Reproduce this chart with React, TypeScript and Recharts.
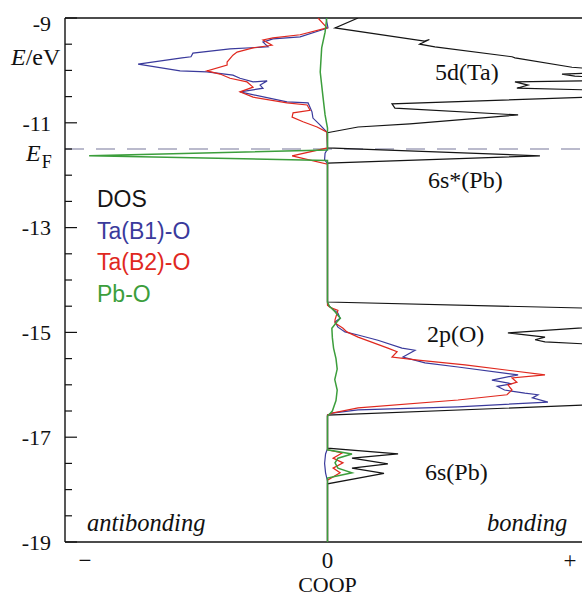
import { ScatterChart, Scatter, XAxis, YAxis, ReferenceLine, Legend } from 'recharts'

// energy (eV), COOP value (arbitrary units, +-1 at the "+" / "-" marks)
const dosPoints: [number, number][] = [
  [-9.0, 0.126], [-9.19, 0.031], [-9.44, 0.40], [-9.41, 0.42], [-9.5, 0.38], [-9.55, 0.443],
  [-9.74, 0.761], [-9.76, 0.773], [-9.94, 1.008], [-9.99, 1.15], [-10.04, 1.15], [-10.07, 0.967],
  [-10.11, 1.02], [-10.14, 1.15], [-10.19, 1.15], [-10.22, 0.773], [-10.28, 0.827], [-10.34, 0.781],
  [-10.38, 1.15], [-10.5, 1.15], [-10.64, 0.266], [-10.72, 0.278], [-10.85, 0.786], [-11.02, 0.34],
  [-11.08, 0.126], [-11.18, 0.01], [-11.19, 0], [-11.48, 0], [-11.63, 0.876], [-11.77, 0],
  [-14.42, 0], [-14.545, 1.15], [-14.88, 1.15], [-15.01, 0.744], [-15.09, 0.897], [-15.14, 0.856],
  [-15.18, 0.897], [-15.24, 1.15], [-16.37, 1.15], [-16.58, 0], [-17.21, 0], [-17.32, 0.291],
  [-17.4, 0.101], [-17.51, 0.249], [-17.59, 0.101], [-17.69, 0.233], [-17.89, 0], [-19, 0],
]

const taB1Points: [number, number][] = [
  [-9.0, -0.006], [-9.19, 0.002], [-9.36, -0.113], [-9.4, -0.225], [-9.46, -0.266], [-9.55, -0.245],
  [-9.59, -0.402], [-9.67, -0.555], [-9.74, -0.563], [-9.76, -0.6], [-9.88, -0.781], [-10.01, -0.608],
  [-10.03, -0.497], [-10.09, -0.39], [-10.15, -0.361], [-10.22, -0.307], [-10.2, -0.249],
  [-10.28, -0.278], [-10.34, -0.266], [-10.37, -0.307], [-10.41, -0.361], [-10.6, -0.167],
  [-10.62, -0.08], [-10.79, -0.064], [-10.91, -0.06], [-11.04, -0.031], [-11.18, -0.002],
  [-11.5, 0], [-11.58, -0.01], [-11.7, -0.012], [-11.78, 0], [-14.46, 0], [-14.48, 0.002],
  [-14.63, 0.043], [-14.73, 0.052], [-14.8, 0.031], [-14.9, 0.043], [-14.99, 0.072], [-15.05, 0.126],
  [-15.15, 0.208], [-15.3, 0.307], [-15.34, 0.361], [-15.47, 0.311], [-15.58, 0.402], [-15.66, 0.538],
  [-15.81, 0.786], [-15.91, 0.678], [-15.98, 0.76], [-16.03, 0.7], [-16.1, 0.73], [-16.16, 0.814],
  [-16.19, 0.868], [-16.25, 0.845], [-16.33, 0.909], [-16.42, 0.538], [-16.48, 0.126], [-16.54, 0.019],
  [-16.58, 0], [-17.22, 0], [-17.32, -0.008], [-17.5, -0.012], [-17.68, -0.008], [-17.84, 0], [-19, 0],
]

const taB2Points: [number, number][] = [
  [-9.0, -0.039], [-9.19, -0.002], [-9.32, -0.113], [-9.38, -0.225], [-9.42, -0.266], [-9.52, -0.229],
  [-9.57, -0.307], [-9.65, -0.373], [-9.71, -0.39], [-9.84, -0.414], [-9.9, -0.414], [-10.01, -0.497],
  [-10.07, -0.443], [-10.15, -0.402], [-10.22, -0.332], [-10.32, -0.307], [-10.41, -0.361],
  [-10.51, -0.307], [-10.62, -0.167], [-10.66, -0.084], [-10.76, -0.072], [-10.81, -0.142],
  [-10.89, -0.146], [-10.98, -0.101], [-11.08, -0.043], [-11.18, -0.002], [-11.48, 0], [-11.63, -0.146],
  [-11.79, 0], [-14.48, 0], [-14.52, 0.01], [-14.58, 0.043], [-14.76, 0.031], [-14.82, 0.031],
  [-14.92, 0.064], [-14.99, 0.08], [-15.09, 0.126], [-15.3, 0.249], [-15.37, 0.287], [-15.47, 0.266],
  [-15.53, 0.373], [-15.62, 0.567], [-15.81, 0.897], [-15.87, 0.761], [-15.95, 0.781], [-16.0, 0.744],
  [-16.1, 0.761], [-16.19, 0.74], [-16.29, 0.538], [-16.44, 0.126], [-16.54, 0.019], [-16.58, 0],
  [-17.24, 0], [-17.3, 0.06], [-17.4, 0.023], [-17.49, 0.064], [-17.59, 0.023], [-17.68, 0.052],
  [-17.82, 0], [-19, 0],
]

const pbOPoints: [number, number][] = [
  [-9.0, -0.003], [-9.27, -0.01], [-9.57, -0.024], [-10.03, -0.03], [-10.53, -0.018], [-10.85, -0.01],
  [-11.1, 0], [-11.52, 0], [-11.63, -0.983], [-11.72, 0], [-14.42, 0], [-14.5, 0.008], [-14.6, 0.03],
  [-14.73, 0.053], [-14.82, 0.035], [-14.92, 0.018], [-15.1, 0.02], [-15.3, 0.025], [-15.5, 0.035],
  [-15.7, 0.04], [-15.9, 0.03], [-16.1, 0.04], [-16.3, 0.035], [-16.5, 0.02], [-16.6, 0], [-17.24, 0],
  [-17.32, 0.101], [-17.4, 0.043], [-17.49, 0.031], [-17.59, 0.043], [-17.68, 0.101], [-17.78, 0],
  [-19, 0],
]

const seriesNames = ['DOS', 'Ta(B1)-O', 'Ta(B2)-O', 'Pb-O']
const seriesColors = ['#151515', '#3a3a9c', '#e0281e', '#3c9e3c']
const seriesWidths = [1.2, 1.2, 1.2, 1.5]
const seriesPoints = [dosPoints, taB1Points, taB2Points, pbOPoints]

const energyTicks = [-19, -18.5, -18, -17.5, -17, -16.5, -16, -15.5, -15, -14.5, -14, -13.5, -13,
  -12.5, -12, -11.5, -11, -10.5, -10, -9.5, -9]
const labeledTicks = [-19, -17, -15, -13, -11, -9]
const coopTicks = [-1, 0, 1]
const coopTickLabels = ['−', '0', '+']
const fermiLevel = -11.5

const SERIF = "'Liberation Serif', 'Times New Roman', serif"
const SANS = "'Liberation Sans', Arial, sans-serif"

function LeftTick({ x, y, payload }: any) {
  const major = labeledTicks.includes(payload.value)
  return (
    <g>
      <line x1={x} x2={x + (major ? 12 : 7)} y1={y} y2={y} stroke="#111" strokeWidth={1.2} />
      {major && (
        <text x={x - 14} y={payload.value === -9 ? y + 5 : y} dy="0.35em" textAnchor="end"
          fontFamily={SERIF} fontSize={22} fill="#111">
          {payload.value}
        </text>
      )}
    </g>
  )
}

function RightTick({ x, y }: any) {
  return <line x1={x} x2={x - 12} y1={y} y2={y} stroke="#111" strokeWidth={1.2} />
}

function BottomTick({ x, y, payload }: any) {
  const i = coopTicks.indexOf(payload.value)
  return (
    <text x={x} y={y + 26} textAnchor="middle" fontFamily={SERIF} fontSize={23} fill="#111">
      {coopTickLabels[i]}
    </text>
  )
}

function LegendBox({ payload }: any) {
  const items = [...(payload ?? [])].sort(
    (a: any, b: any) => seriesNames.indexOf(a.value) - seriesNames.indexOf(b.value))
  return (
    <div style={{ fontFamily: SANS, fontSize: 23 }}>
      {items.map((p: any) => (
        <div key={p.value} style={{ color: p.color, height: 31.7, lineHeight: '31.7px', whiteSpace: 'nowrap' }}>{p.value}</div>
      ))}
    </div>
  )
}

const noDot = () => <g />

export default function App() {
  return (
    <div style={{ position: 'absolute', left: 0, top: 0, width: 582, height: 597, overflow: 'hidden', background: '#fff' }}>
      <ScatterChart width={590} height={597} margin={{ top: 18, right: 0, bottom: 0, left: 0 }}>
        <XAxis type="number" dataKey="x" domain={[-1.0825, 1.0825]} allowDataOverflow ticks={coopTicks}
          tick={<BottomTick />} tickLine={false} tickSize={0} tickMargin={0} height={55}
          axisLine={{ stroke: '#111', strokeWidth: 1.4 }}
          label={{ value: 'COOP', position: 'insideBottom', offset: 5, fill: '#111', fontSize: 22, fontFamily: SERIF }} />
        <YAxis type="number" dataKey="y" domain={[-19, -9]} allowDataOverflow ticks={energyTicks} interval={0}
          tick={<LeftTick />} tickLine={false} tickSize={0} tickMargin={0} width={65}
          axisLine={{ stroke: '#111', strokeWidth: 1.4 }} />
        <YAxis yAxisId="r" orientation="right" type="number" domain={[-19, -9]} ticks={labeledTicks} interval={0}
          tick={<RightTick />} tickLine={false} tickSize={0} tickMargin={0} width={0} axisLine={false} />
        <ReferenceLine y={-9} stroke="#111" strokeWidth={1.4} />
        <ReferenceLine y={fermiLevel} stroke="#76769a" strokeWidth={1.2} strokeDasharray="19 12" />
        {seriesPoints.map((pts, i) => (
          <Scatter key={seriesNames[i]} name={seriesNames[i]} data={pts.map(([e, v]) => ({ x: v, y: e }))}
            fill={seriesColors[i]} line={{ stroke: seriesColors[i], strokeWidth: seriesWidths[i] }} lineType="joint"
            shape={noDot} isAnimationActive={false} />
        ))}
        <Legend layout="vertical" align="center" verticalAlign="middle" content={<LegendBox />}
          wrapperStyle={{ left: 97, top: 184, width: 140 }} />
        <text x={11} y={65} fontFamily={SERIF} fontSize={24} fill="#111">
          <tspan fontStyle="italic">E</tspan>/eV
        </text>
        <text x={26} y={161} fontFamily={SERIF} fontSize={24} fill="#111">
          <tspan fontStyle="italic">E</tspan>
          <tspan fontSize={18} dx={1} dy={7}>F</tspan>
        </text>
        <text x={435} y={80} fontFamily={SERIF} fontSize={24} fill="#111">5d(Ta)</text>
        <text x={428} y={188} fontFamily={SERIF} fontSize={24} fill="#111">6s*(Pb)</text>
        <text x={427} y={342} fontFamily={SERIF} fontSize={24} fill="#111">2p(O)</text>
        <text x={425} y={480} fontFamily={SERIF} fontSize={24} fill="#111">6s(Pb)</text>
        <text x={87} y={531} fontFamily={SERIF} fontSize={24.5} fontStyle="italic" fill="#111">antibonding</text>
        <text x={487} y={531} fontFamily={SERIF} fontSize={24.5} fontStyle="italic" fill="#111">bonding</text>
      </ScatterChart>
    </div>
  )
}
